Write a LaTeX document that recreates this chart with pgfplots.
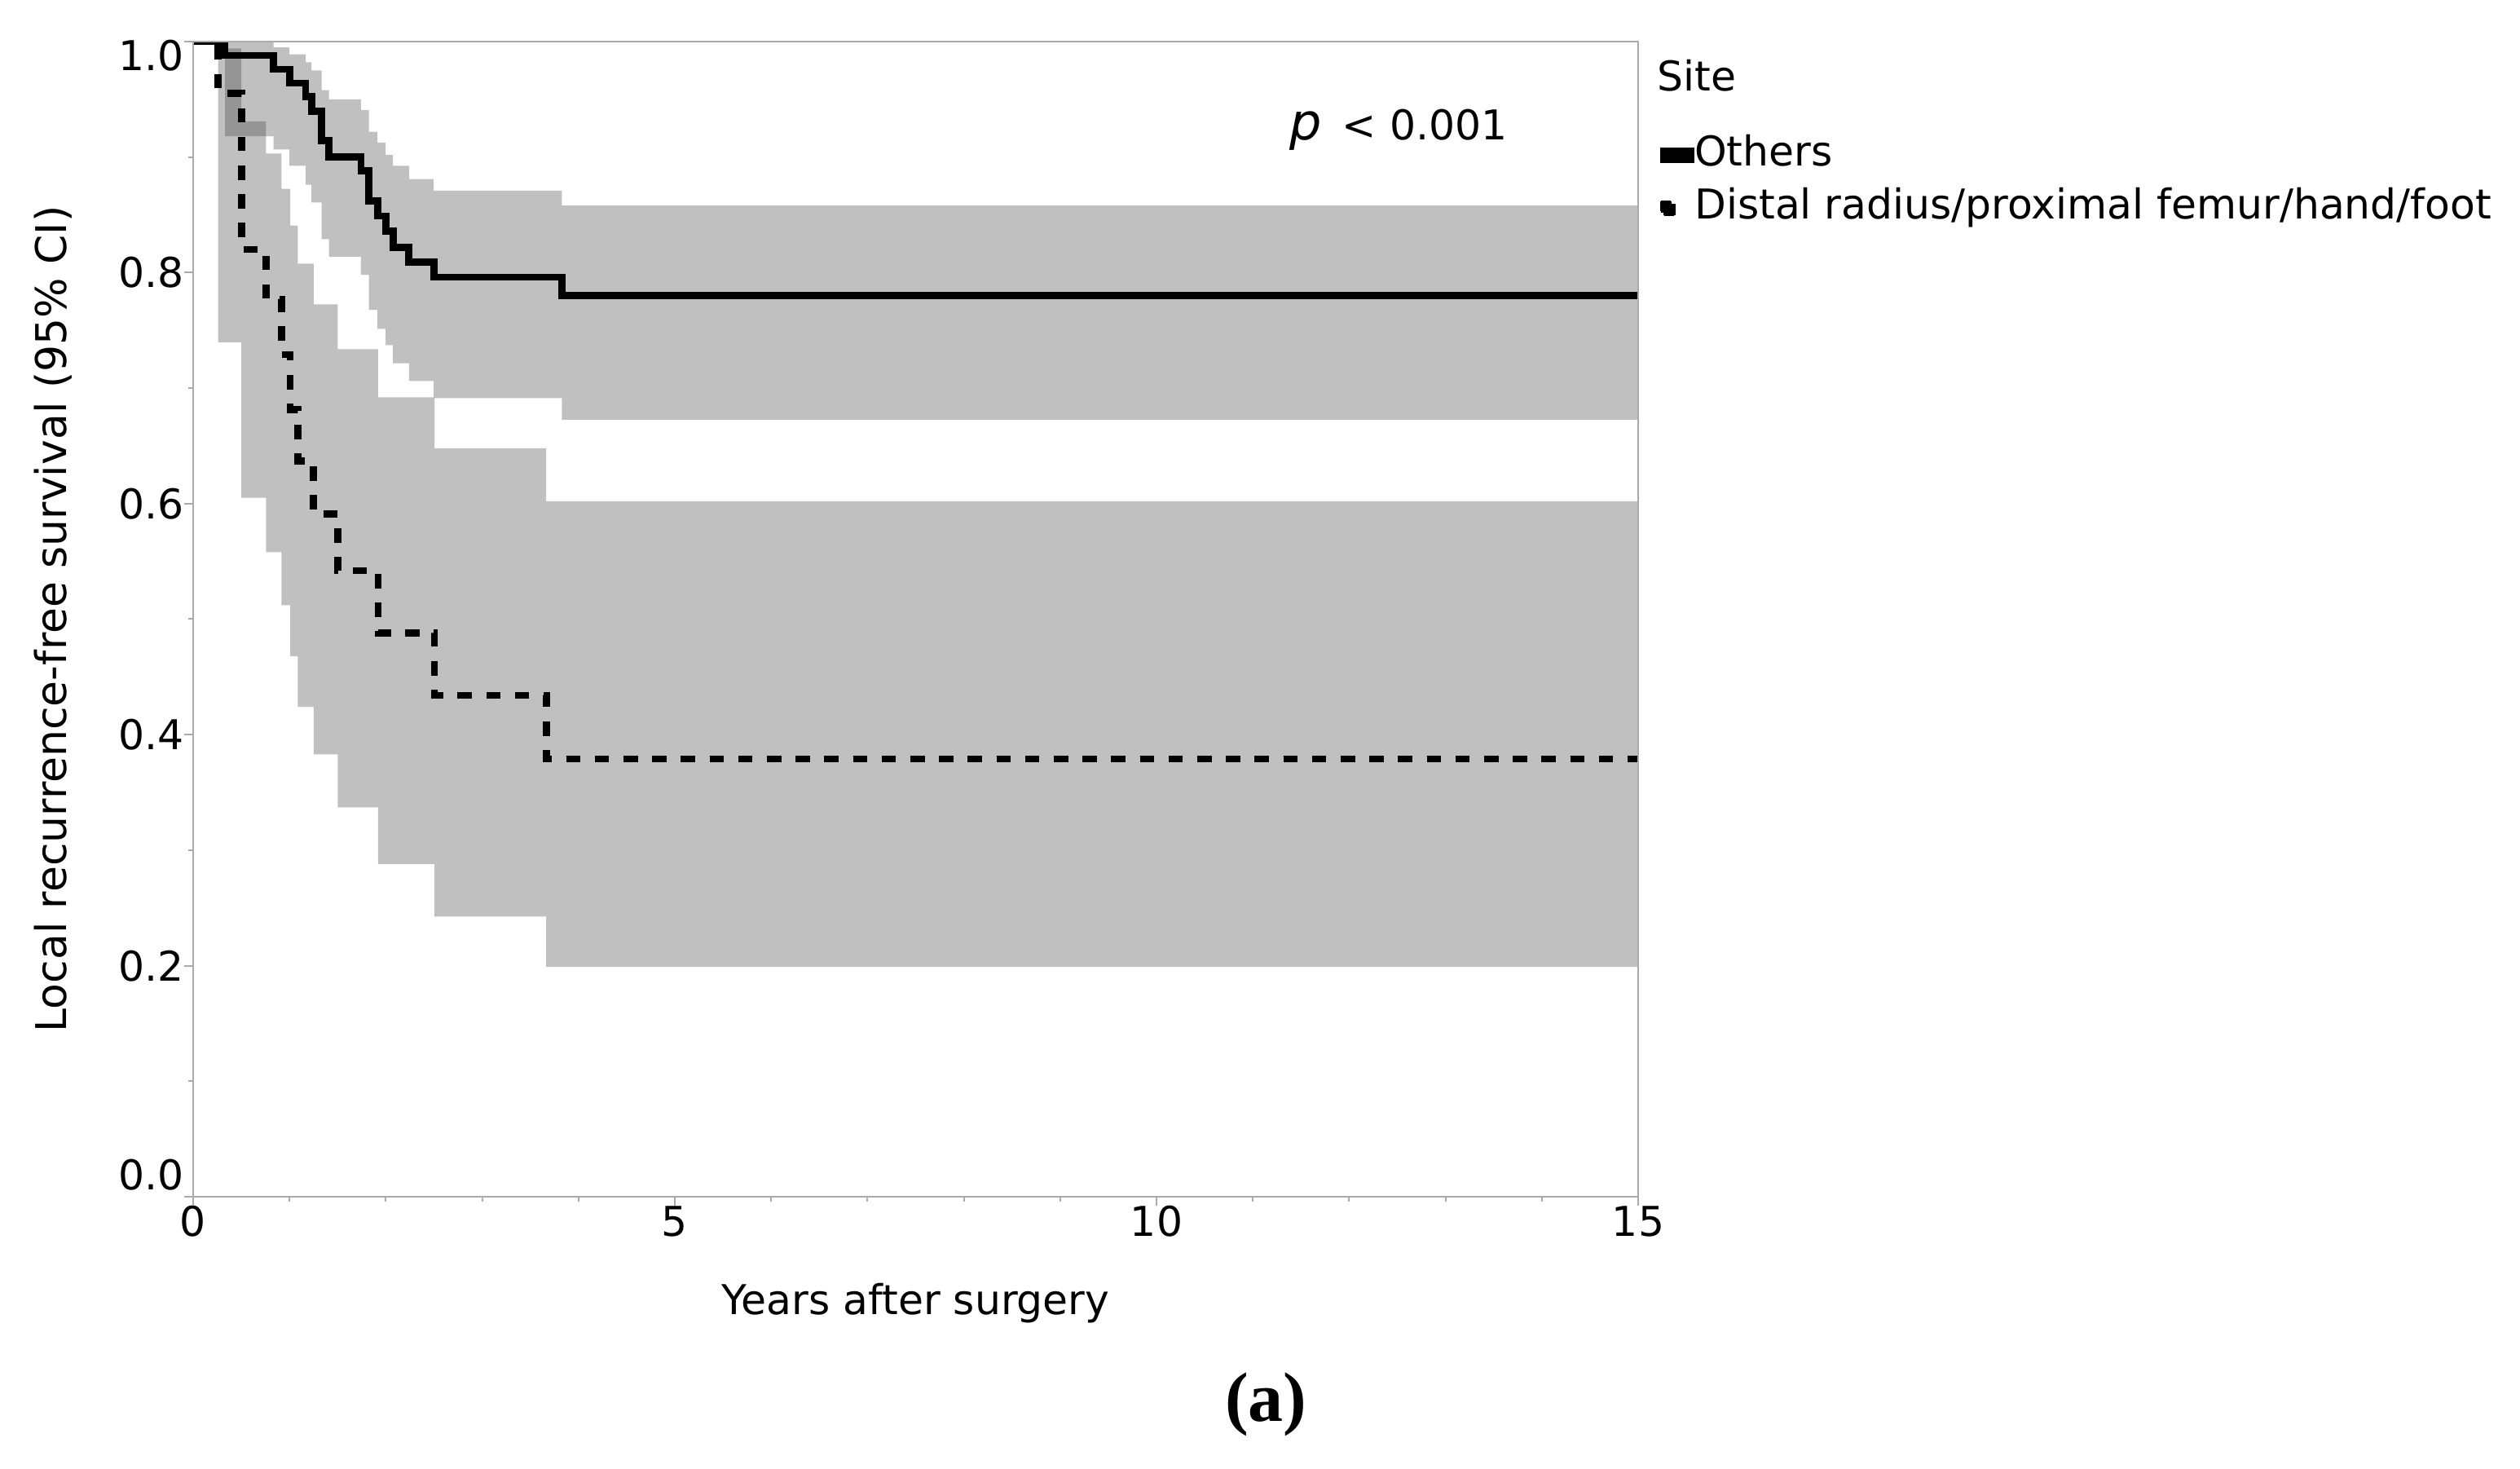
\documentclass[border=0pt]{standalone}
\usepackage{fontspec}
\setmainfont{DejaVu Sans}
\newfontfamily\capfont{Liberation Serif}
\usepackage{pgfplots}
\pgfplotsset{compat=1.18}
\usepgfplotslibrary{fillbetween}
\definecolor{framegray}{RGB}{170,170,170}
\definecolor{bandcol}{RGB}{65,65,65}
\newcommand{\fs}{\fontsize{12.6}{15}\selectfont}
\begin{document}
\begin{tikzpicture}
\begin{axis}[
    at={(59.25pt,83.25pt)}, anchor=south west,
    scale only axis, width=443.25pt, height=354.25pt,
    xmin=0, xmax=15, ymin=0, ymax=1,
    axis on top,
    font=\fs,
    axis line style={framegray, line width=0.5pt},
    tick style={framegray, line width=0.5pt},
    tick align=outside, tick pos=left,
    major tick length=2.75pt, minor tick length=1.5pt,
    xtick={0,5,10,15}, xticklabels={0,5,10,15}, minor x tick num=4,
    ytick={0,0.2,0.4,0.6,0.8,1},
    yticklabels={\raisebox{6.75pt}{0.0},0.2,0.4,0.6,0.8,\raisebox{-4.35pt}{1.0}},
    minor y tick num=1,
    xticklabel style={anchor=north, inner sep=0pt, text height=9.2pt, text depth=0pt},
    yticklabel style={anchor=east, inner sep=0pt, text height=9.2pt, text depth=0pt},
    xlabel={Years after surgery},
    ylabel={Local recurrence-free survival (95\% CI)},
    every axis x label/.style={at={(axis description cs:0.5,-0.0743)}, anchor=north, inner sep=0pt},
    every axis y label/.style={at={(axis description cs:-0.1102,0.5)}, rotate=90, anchor=north,
        inner sep=0pt, font=\fontsize{13}{15}\selectfont},
    legend style={at={(axis description cs:1.01512,0.9193)}, anchor=north west,
        draw=none, fill=none, inner sep=0pt, outer sep=0pt, row sep=3.75pt, column sep=0pt,
        nodes={inner sep=0pt, text height=9.5pt, text depth=3pt, font=\fs}},
    legend cell align=left,
]
% 95% CI, distal radius / proximal femur / hand / foot
\addplot[draw=none, const plot, name path=DU, forget plot] coordinates {
(0.26,0.994)(0.50,0.931)(0.757,0.903)(0.917,0.8725)(1.007,0.8407)(1.085,0.8078)
(1.25,0.7725)(1.50,0.7337)(1.92,0.692)(2.505,0.648)(3.665,0.602)(15,0.602)};
\addplot[draw=none, const plot, name path=DL, forget plot] coordinates {
(0.26,0.7396)(0.50,0.605)(0.757,0.558)(0.917,0.512)(1.007,0.468)(1.085,0.424)
(1.25,0.383)(1.50,0.337)(1.92,0.288)(2.505,0.2425)(3.665,0.199)(15,0.199)};
\addplot[fill=bandcol, fill opacity=0.332, draw=none, forget plot] fill between[of=DU and DL];
% 95% CI, others
\addplot[draw=none, const plot, name path=OU, forget plot] coordinates {
(0.33,1.0)(0.835,0.995)(1.00,0.989)(1.168,0.982)(1.228,0.975)(1.333,0.958)(1.41,0.950)
(1.742,0.9407)(1.825,0.922)(1.914,0.9125)(1.998,0.902)(2.074,0.8925)(2.24,0.881)
(2.497,0.871)(3.827,0.858)(15,0.858)};
\addplot[draw=none, const plot, name path=OL, forget plot] coordinates {
(0.33,0.918)(0.835,0.9066)(1.00,0.8925)(1.168,0.876)(1.228,0.8607)(1.333,0.829)(1.41,0.8137)
(1.742,0.798)(1.825,0.7678)(1.914,0.7514)(1.998,0.7372)(2.074,0.7215)(2.24,0.7062)
(2.497,0.6914)(3.827,0.6726)(15,0.6726)};
\addplot[fill=bandcol, fill opacity=0.332, draw=none, forget plot] fill between[of=OU and OL];
% Kaplan-Meier curves
\addplot[const plot, black, line width=2.2pt,
    legend image code/.code={\path (0pt,-1pt) rectangle (4.2pt,1pt);
        \fill[black] (0pt,-1.3pt) rectangle (8.4pt,1.3pt);}] coordinates {
(0,1)(0.33,0.988)(0.835,0.976)(1.00,0.964)(1.168,0.9525)(1.228,0.9395)(1.333,0.914)
(1.41,0.900)(1.742,0.888)(1.825,0.862)(1.914,0.849)(1.998,0.836)(2.074,0.822)
(2.24,0.809)(2.497,0.796)(3.827,0.780)(15,0.780)};
\addlegendentry{Others}
\addplot[const plot, black, line width=2.2pt, dash pattern=on 4.4pt off 4.4pt,
    legend image code/.code={\path (0pt,-1pt) rectangle (4.2pt,1pt);
        \fill[black] (0.3pt,-1.3pt) rectangle (3.6pt,1.3pt);}] coordinates {
(0,1)(0.26,0.955)(0.50,0.820)(0.757,0.777)(0.917,0.729)(1.007,0.6815)(1.085,0.637)
(1.25,0.591)(1.50,0.542)(1.92,0.488)(2.505,0.434)(3.665,0.379)(15,0.379)};
\addlegendentry{Distal radius/proximal femur/hand/foot}
\end{axis}
\node[anchor=base west, inner sep=0pt, font=\fs] at (508.1pt,422.3pt) {Site};
\node[anchor=base west, inner sep=0pt, font=\fs] at (395.5pt,407.3pt)
    {{\fontsize{15.5}{18}\selectfont\itshape p}\hspace{6pt}<\hspace{4.3pt}0.001};
\node[inner sep=0pt, font=\capfont\bfseries\fontsize{21.5}{25}\selectfont] at (388.3pt,19.6pt) {(a)};
\pgfresetboundingbox
\path (0pt,0pt) rectangle (773pt,450.25pt);
\end{tikzpicture}
\end{document}
